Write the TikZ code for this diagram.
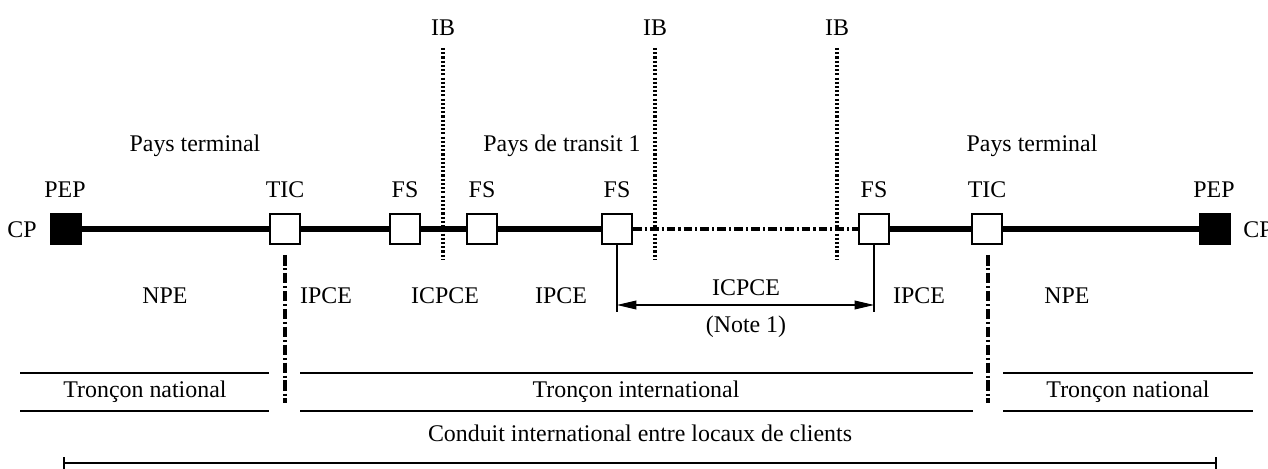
\documentclass[tikz,border=0pt]{standalone}
\usepackage{fontspec}
\setmainfont{Liberation Serif}
\usepackage{tikz}
\usetikzlibrary{positioning,arrows.meta}

\begin{document}
\begin{tikzpicture}[
            x=0.02cm, y=-0.02cm,
            every node/.style={font=\fontsize{13.6}{16}\selectfont, inner sep=0pt},
            pepbox/.style={draw, fill=black, minimum size=0.62cm},
            sbox/.style={draw, fill=white, line width=1.1pt, minimum size=0.6cm},
            mainline/.style={line width=3.6pt},
            transit/.style={line width=2pt, dash pattern=on 5pt off 1.7pt on 1.2pt off 1.7pt},
            ticline/.style={line width=1.9pt, dash pattern=on 6pt off 1.5pt on 1.2pt off 1.5pt},
            ibline/.style={line width=2pt, dash pattern=on 1.2pt off 1.2pt},
            thinline/.style={line width=0.6pt},
            dimarrow/.style={{Triangle[length=11pt,width=5pt]}-{Triangle[length=11pt,width=5pt]}, line width=0.6pt},
            spanline/.style={{Bar[width=6.5pt]}-{Bar[width=6.5pt]}, line width=1.1pt}
        ]
            \useasboundingbox (0,0) rectangle (1268,469);

            % countries and boundaries
            \node (payl) at (195,146) {Pays terminal};
            \node (payt) at (562,146) {Pays de transit 1};
            \node (payr) at (1032,146) {Pays terminal};
            \node (ib1) at (443,28) {IB};
            \node (ib2) at (655,28) {IB};
            \node (ib3) at (837,28) {IB};
            \coordinate (ib1t) at (443,48);  \coordinate (ib1b) at (443,259);
            \coordinate (ib2t) at (655,48);  \coordinate (ib2b) at (655,259);
            \coordinate (ib3t) at (837,48);  \coordinate (ib3b) at (837,259);
            \draw [ibline] (ib1t) -- (ib1b);
            \draw [ibline] (ib2t) -- (ib2b);
            \draw [ibline] (ib3t) -- (ib3b);

            % the connection
            \node (cpl) at (22,230) {CP};
            \node (cpr) at (1258,230) {CP};
            \node (pepl) [pepbox] at (65.5,229) {};
            \node (ticl) [sbox] at (285,229) {};
            \node (fs1) [sbox] at (405,229) {};
            \node (fs2) [sbox] at (482,229) {};
            \node (fs3) [sbox] at (617,229) {};
            \node (fs4) [sbox] at (874,229) {};
            \node (ticr) [sbox] at (987,229) {};
            \node (pepr) [pepbox] at (1214.5,229) {};
            \node at (65,190) {PEP};
            \node at (285,190) {TIC};
            \node at (405,190) {FS};
            \node at (482,190) {FS};
            \node at (617,190) {FS};
            \node at (874,190) {FS};
            \node at (987,190) {TIC};
            \node at (1214,190) {PEP};

            \draw [mainline] (pepl) -- (ticl) -- (fs1) -- (fs2) -- (fs3);
            \draw [transit] (fs3) -- (fs4);
            \draw [mainline] (fs4) -- (ticr) -- (pepr);

            % sections
            \node (npel) at (165,296) {NPE};
            \node (ipce1) at (326,296) {IPCE};
            \node (icpce1) at (445,296) {ICPCE};
            \node (ipce2) at (561,296) {IPCE};
            \node (ipce3) at (919,296) {IPCE};
            \node (nper) at (1067,296) {NPE};

            \coordinate (fs3b) at (617,312);
            \coordinate (fs4b) at (874,312);
            \draw [thinline] (fs3) -- (fs3b);
            \draw [thinline] (fs4) -- (fs4b);
            \coordinate (dl) at (617,305);
            \coordinate (dr) at (874,305);
            \draw [dimarrow] (dl) -- (dr);
            \node (icpce2) at (746,288) {ICPCE};
            \node (note) at (746,327) {(Note 1)};

            \coordinate (ticlt) at (285,255);  \coordinate (ticlb) at (285,403);
            \coordinate (ticrt) at (988,255);  \coordinate (ticrb) at (988,403);
            \draw [ticline] (ticlt) -- (ticlb);
            \draw [ticline] (ticrt) -- (ticrb);

            % national and international parts
            \node (natl) at (145,392) {Tronçon national};
            \node (intl) at (636,392) {Tronçon international};
            \node (natr) at (1128,392) {Tronçon national};
            \draw [thinline] (20,373) -- (269,373) (20,411) -- (269,411);
            \draw [thinline] (300,373) -- (973,373) (300,411) -- (973,411);
            \draw [thinline] (1003,373) -- (1253,373) (1003,411) -- (1253,411);

            \node (conduit) at (640,433) {Conduit international entre locaux de clients};
            \coordinate (cl) at (63,463);
            \coordinate (cr) at (1217,463);
            \draw [spanline] (cl) -- (cr);
        \end{tikzpicture}
\end{document}
